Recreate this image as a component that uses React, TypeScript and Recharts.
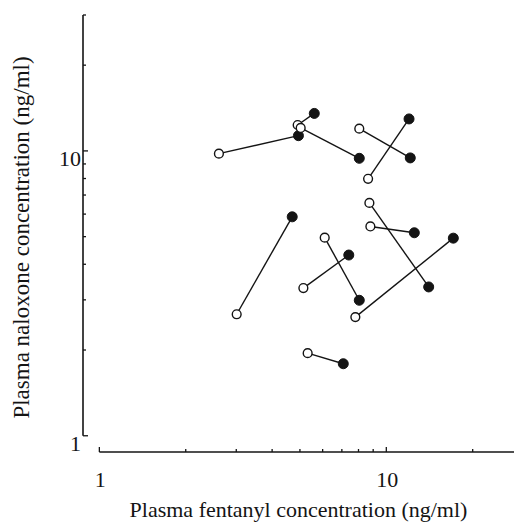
import React from 'react';
import { ScatterChart, Scatter, XAxis, YAxis, ReferenceLine } from 'recharts';

// Pairs: open circle -> filled circle (fentanyl ng/ml, naloxone ng/ml)
const openFentanyl = [2.61, 4.91, 5.03, 8.05, 8.64, 8.73, 8.8, 7.8, 3.01, 6.1, 5.14, 5.32];
const openNaloxone = [9.78, 12.33, 12.04, 11.97, 7.98, 6.57, 5.43, 2.61, 2.67, 4.96, 3.3, 1.95];
const filledFentanyl = [4.94, 5.61, 8.05, 12.12, 12.0, 14.05, 12.52, 17.12, 4.7, 8.05, 7.4, 7.08];
const filledNaloxone = [11.31, 13.54, 9.42, 9.45, 12.95, 3.33, 5.16, 4.94, 5.87, 2.99, 4.31, 1.79];

const xTicks = [1, 2, 3, 4, 5, 6, 7, 8, 9, 10, 20];
const yTicks = [1, 2, 3, 4, 5, 6, 7, 8, 9, 10, 20, 30];
const labeledTicks = [1, 10];

const xDomain: [number, number] = [0.877, 27.86];
const yDomain: [number, number] = [0.877, 30];

const pairs = openFentanyl.map((_, i) => [
  { x: openFentanyl[i], y: openNaloxone[i], filled: false },
  { x: filledFentanyl[i], y: filledNaloxone[i], filled: true },
]);

const INK = '#141414';
const FONT = '"Liberation Serif", "Times New Roman", serif';

const Dot = (props: any) => {
  const { cx, cy, payload } = props;
  if (cx == null || cy == null) return null;
  return payload.filled ? (
    <circle cx={cx} cy={cy} r={5} fill={INK} stroke={INK} strokeWidth={1} />
  ) : (
    <circle cx={cx} cy={cy} r={4.4} fill="#fff" stroke={INK} strokeWidth={1.4} />
  );
};

const XTick = (props: any) => {
  const { x, y, payload } = props;
  const major = labeledTicks.includes(payload.value);
  return (
    <g>
      <line x1={x} y1={y} x2={x} y2={y - (major ? 5 : 3)} stroke={INK} strokeWidth={1.3} />
      {major && (
        <text x={x + 1} y={y + 35} textAnchor="middle" fontFamily={FONT} fontSize={22} fill={INK}>
          {payload.value}
        </text>
      )}
    </g>
  );
};

const YTick = (props: any) => {
  const { x, y, payload } = props;
  const major = labeledTicks.includes(payload.value);
  return (
    <g>
      <line x1={x} y1={y} x2={x + (major ? 5 : 3)} y2={y} stroke={INK} strokeWidth={1.3} />
      {major && (
        <text x={x - 2} y={y + 15} textAnchor="end" fontFamily={FONT} fontSize={22} fill={INK}>
          {payload.value}
        </text>
      )}
    </g>
  );
};

const XTitle = (props: any) => {
  const vb = props.viewBox;
  return (
    <text x={vb.x + vb.width / 2} y={vb.y + 65} textAnchor="middle" fontFamily={FONT} fontSize={22} fill={INK}>
      Plasma fentanyl concentration (ng/ml)
    </text>
  );
};

const YTitle = (props: any) => {
  const vb = props.viewBox;
  const cx = 29;
  const cy = vb.y + vb.height / 2 + 4;
  return (
    <text
      x={cx}
      y={cy}
      textAnchor="middle"
      fontFamily={FONT}
      fontSize={23}
      fill={INK}
      transform={`rotate(-90, ${cx}, ${cy})`}
    >
      Plasma naloxone concentration (ng/ml)
    </text>
  );
};

export default function App() {
  return (
    <div style={{ position: 'absolute', left: 0, top: 0, background: '#fff' }}>
      <ScatterChart width={514} height={523} margin={{ top: 15, right: 0, bottom: 0, left: 0 }}>
        <XAxis
          type="number"
          dataKey="x"
          scale="log"
          domain={xDomain}
          allowDataOverflow
          ticks={xTicks}
          interval={0}
          height={71}
          tickSize={0}
          tickMargin={0}
          axisLine={false}
          tick={XTick}
          label={XTitle}
        />
        <YAxis
          type="number"
          dataKey="y"
          scale="log"
          domain={yDomain}
          allowDataOverflow
          ticks={yTicks}
          interval={0}
          width={83}
          tickSize={0}
          tickMargin={0}
          axisLine={false}
          tick={YTick}
          label={YTitle}
        />
        <ReferenceLine
          segment={[{ x: 1, y: yDomain[0] }, { x: xDomain[1], y: yDomain[0] }]}
          stroke={INK}
          strokeWidth={1.6}
          ifOverflow="visible"
        />
        <ReferenceLine
          segment={[{ x: xDomain[0], y: 1 }, { x: xDomain[0], y: yDomain[1] }]}
          stroke={INK}
          strokeWidth={1.6}
          ifOverflow="visible"
        />
        {pairs.map((p, i) => (
          <Scatter
            key={i}
            data={p}
            line={{ stroke: INK, strokeWidth: 1.4 }}
            shape={<Dot />}
            isAnimationActive={false}
            legendType="none"
          />
        ))}
      </ScatterChart>
    </div>
  );
}
